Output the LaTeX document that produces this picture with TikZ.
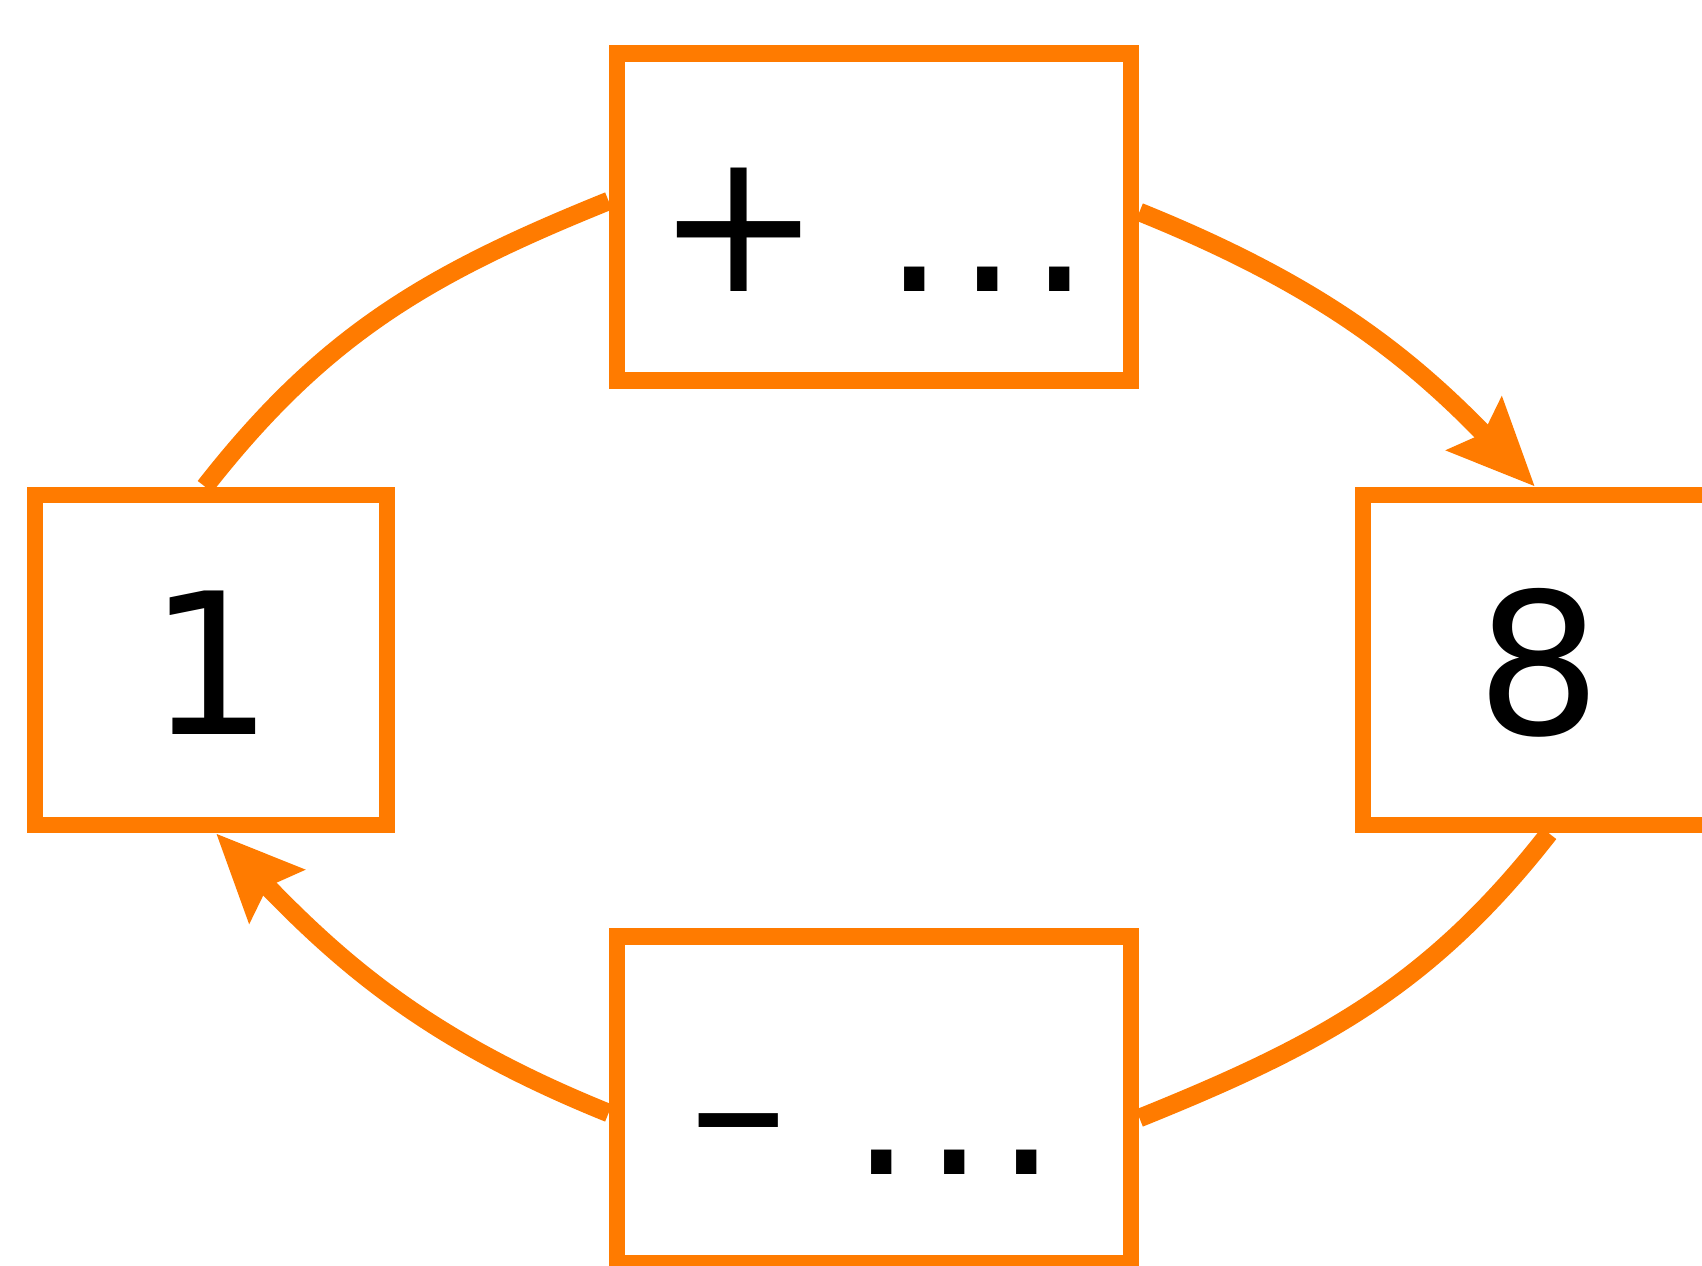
\documentclass[tikz,border=0pt]{standalone}
\usepackage{fontspec}
\setmainfont{DejaVu Sans}
\usetikzlibrary{arrows.meta}

\definecolor{boxorange}{RGB}{255,123,0}

\begin{document}
\begin{tikzpicture}[x=0.01cm, y=0.01cm]

	\tikzstyle{box_wide} = [rectangle, draw=boxorange, line width=0.165cm, inner sep=0pt, minimum width=5.14cm, minimum height=3.27cm, text height=42.5pt, text depth=0pt, font=\fontsize{56pt}{56pt}\selectfont]
	\tikzstyle{box_narrow} = [box_wide, minimum width=3.52cm, minimum height=3.30cm]
	\tikzstyle{edge} = [draw=boxorange, line width=0.185cm]
	\tikzstyle{edge_arrow} = [edge, -{Stealth[length=0.86cm, width=0.74cm, inset=0.12cm]}]

	\useasboundingbox (0,0) rectangle (1702,1265);

%------------------------------------------------------------
	\node[box_narrow] (one)   at (211,605)  {1};
	\node[box_narrow] (eight) at (1539,605) {8};

%------------------------------------------------------------

	\node[box_wide] (plus)  at (874,1048) {+ .\kern.05em.\kern.05em.};
	\node[box_wide] (minus) at (874,165)  {-- .\kern.05em.\kern.05em.};

%------------------------------------------------------------

	\draw[edge] ([xshift=-0.06cm]one.north) to[out=52, in=202] ([yshift=0.16cm]plus.west);
	\draw[edge_arrow] ([yshift=0.05cm]plus.east) to[out=-22, in=134] ([xshift=-0.04cm]eight.north);

	\draw[edge] ([xshift=0.1cm]eight.south) to[out=232, in=22] ([yshift=-0.18cm]minus.east);
	\draw[edge_arrow] ([yshift=-0.13cm]minus.west) to[out=158, in=-46] ([xshift=0.05cm]one.south);

\end{tikzpicture}
\end{document}
